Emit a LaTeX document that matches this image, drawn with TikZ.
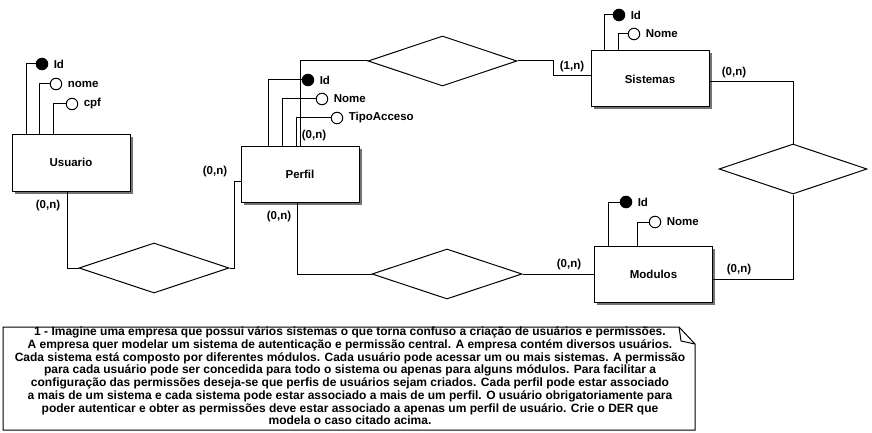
\documentclass[tikz,border=0pt]{standalone}
\usepackage{fontspec}
\setmainfont{Liberation Sans}
\usetikzlibrary{shapes.geometric,shadows}
\begin{document}
\begin{tikzpicture}[x=1pt,y=-1pt,line width=1pt,
  every node/.style={font=\fontsize{11.5}{13}\selectfont\bfseries},
  entity/.style={draw,fill=white,minimum width=118pt,minimum height=56pt,inner sep=0pt,
    drop shadow={shadow xshift=2.5pt,shadow yshift=-2.5pt,fill=black!55,opacity=1}},
  rel/.style={draw,diamond,aspect=3,minimum width=150pt,minimum height=50pt,inner sep=0pt},
  keyattr/.style={draw,circle,fill=black,minimum size=11.5pt,inner sep=0pt},
  attr/.style={draw,circle,fill=white,minimum size=11.5pt,inner sep=0pt},
  alabel/.style={anchor=west,inner sep=0pt},
  card/.style={inner sep=0pt}]
\useasboundingbox (0,0) rectangle (872,433);
\fill[white] (0,0) rectangle (872,433);

% entities
\node[entity,minimum height=57pt] (usuario) at (71,162.5) {Usuario};
\node[entity] (perfil) at (300,174) {Perfil};
\node[entity] (sistemas) at (650,79) {Sistemas};
\node[entity] (modulos) at (653.5,274) {Modulos};

% relationships
\node[rel] (d1) at (154,268) {};
\node[rel,minimum width=149pt] (d2) at (442.5,61) {};
\node[rel,minimum width=148pt] (d3) at (793,169) {};
\node[rel] (d4) at (447,274) {};

% connectors
\draw (usuario.south -| 67,0) |- (d1.west);
\draw (d1.east) -- ++(5,0) |- (perfil.west |- 0,181);
\draw (perfil.north) |- (d2.west);
\draw (d2.east) -| (553,76) -- (sistemas.west |- 0,76);
\draw (sistemas.east |- 0,82) -| (d3.north);
\draw (d3.south) |- (modulos.east |- 0,279);
\draw (perfil.south -| 297,0) |- (d4.west);
\draw (d4.east) -- (modulos.west);

% attributes Usuario
\node[keyattr] (uid) at (42,64) {};
\node[attr] (unome) at (56,84) {};
\node[attr] (ucpf) at (72,104) {};
\draw (usuario.north -| 26,0) |- (uid.west);
\draw (usuario.north -| 39,0) |- (unome.west);
\draw (usuario.north -| 53,0) |- (ucpf.west);
\node[alabel] (luid) at ([xshift=5pt]uid.east) {Id};
\node[alabel] (lunome) at ([xshift=5pt]unome.east) {nome};
\node[alabel] (lucpf) at ([xshift=5pt]ucpf.east) {cpf};

% attributes Perfil
\node[keyattr] (pid) at (308,80) {};
\node[attr] (pnome) at (322,99) {};
\node[attr] (ptipo) at (337,118) {};
\draw (perfil.north -| 268,0) |- (pid.west);
\draw (perfil.north -| 282,0) |- (pnome.west);
\draw (perfil.north -| 296,0) |- (ptipo.west);
\node[alabel] (lpid) at ([xshift=5pt]pid.east) {Id};
\node[alabel] (lpnome) at ([xshift=5pt]pnome.east) {Nome};
\node[alabel] (lptipo) at ([xshift=5pt]ptipo.east) {TipoAcceso};

% attributes Sistemas
\node[keyattr] (sid) at (619,15) {};
\node[attr] (snome) at (634,34) {};
\draw (sistemas.north -| 604,0) |- (sid.west);
\draw (sistemas.north -| 618,0) |- (snome.west);
\node[alabel] (lsid) at ([xshift=5pt]sid.east) {Id};
\node[alabel] (lsnome) at ([xshift=5pt]snome.east) {Nome};

% attributes Modulos
\node[keyattr] (mid) at (626,202) {};
\node[attr] (mnome) at (655,222) {};
\draw (modulos.north -| 608,0) |- (mid.west);
\draw (modulos.north -| 637,0) |- (mnome.west);
\node[alabel] (lmid) at ([xshift=5pt]mid.east) {Id};
\node[alabel] (lmnome) at ([xshift=5pt]mnome.east) {Nome};

% cardinalities
\node[card] (c1) at (48,206) {(0,n)};
\node[card] (c2) at (215,172) {(0,n)};
\node[card] (c3) at (314,136) {(0,n)};
\node[card] (c4) at (279,217) {(0,n)};
\node[card] (c5) at (572,67) {(1,n)};
\node[card] (c6) at (734,73) {(0,n)};
\node[card] (c7) at (569,265) {(0,n)};
\node[card] (c8) at (739,270) {(0,n)};

% note
\draw (3,327) -- (679,327) -- (695,344) -- (695,430) -- (3,430) -- cycle;
\draw (679,327) -- (681,341) -- (695,344);
\node[align=center,inner sep=0pt,font=\fontsize{12}{12.75}\selectfont\bfseries] (note) at (350,376) {%
1 - Imagine uma empresa que possui vários sistemas o que torna confuso a criação de usuários e permissões.\\
A empresa quer modelar um sistema de autenticação e permissão central. A empresa contém diversos usuários.\\
Cada sistema está composto por diferentes módulos. Cada usuário pode acessar um ou mais sistemas. A permissão\\
para cada usuário pode ser concedida para todo o sistema ou apenas para alguns módulos. Para facilitar a\\
configuração das permissões deseja-se que perfis de usuários sejam criados. Cada perfil pode estar associado\\
a mais de um sistema e cada sistema pode estar associado a mais de um perfil. O usuário obrigatoriamente para\\
poder autenticar e obter as permissões deve estar associado a apenas um perfil de usuário. Crie o DER que\\
modela o caso citado acima.};
\end{tikzpicture}
\end{document}
